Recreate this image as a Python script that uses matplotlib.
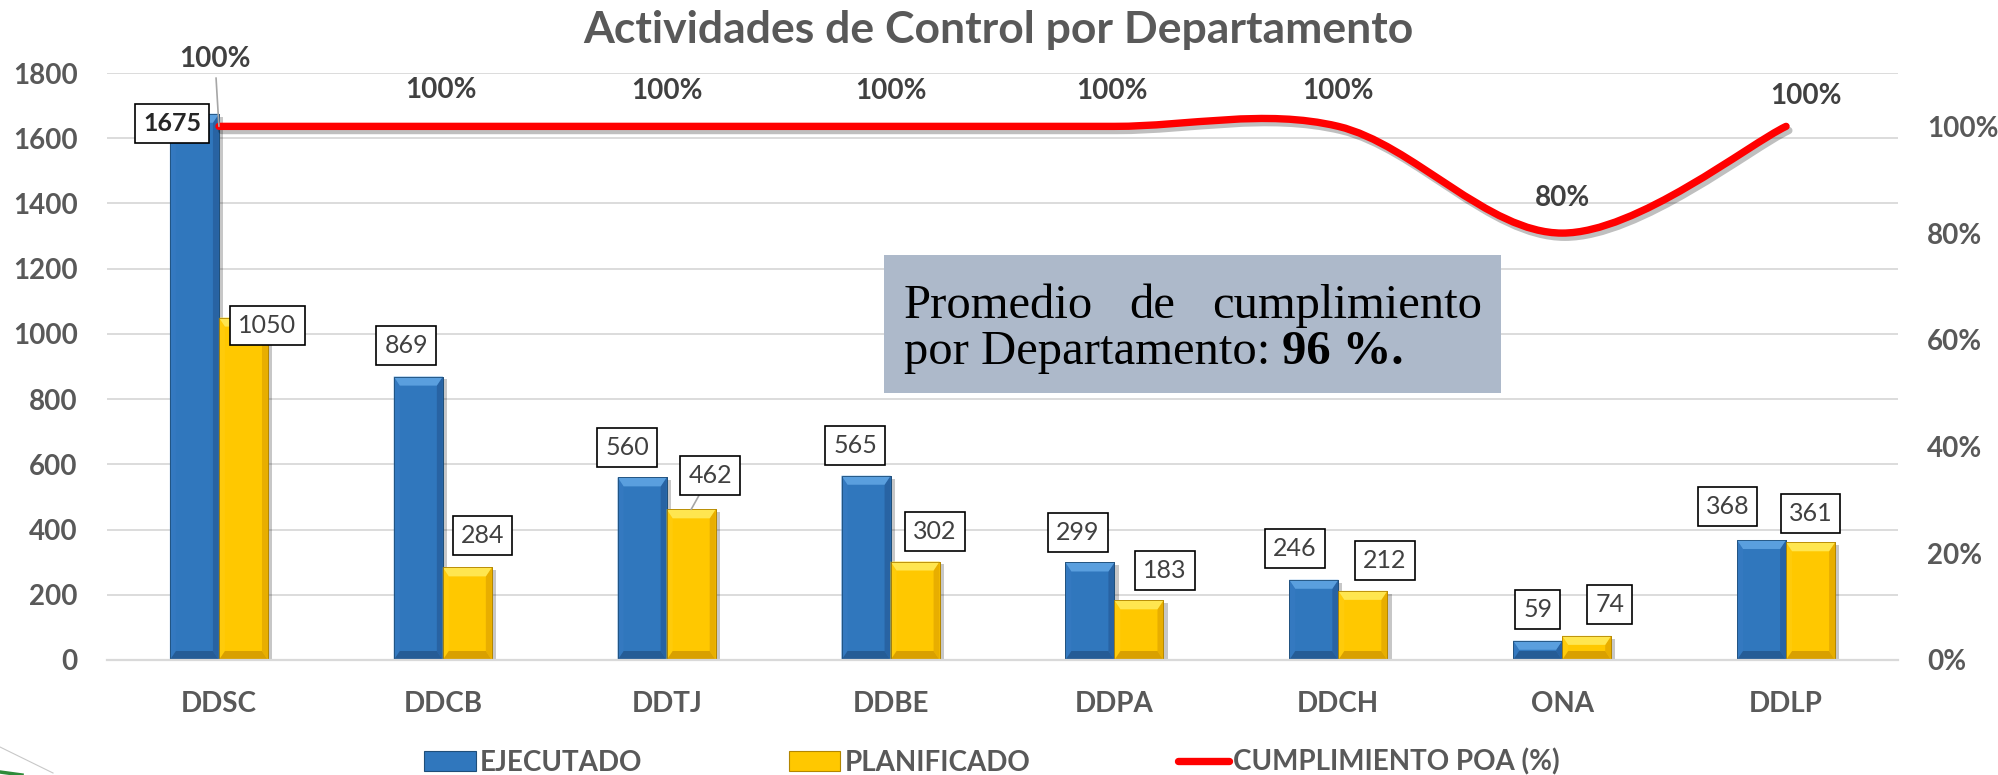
import numpy as np
import matplotlib
matplotlib.use("Agg")
import matplotlib.pyplot as plt
from matplotlib.patches import Rectangle, Polygon, PathPatch, Patch
from matplotlib.path import Path
from matplotlib.lines import Line2D
import matplotlib.patheffects as pe

# ---------------- data ----------------
categories = ["DDSC", "DDCB", "DDTJ", "DDBE", "DDPA", "DDCH", "ONA", "DDLP"]
ejecutado = [1675, 869, 560, 565, 299, 246, 59, 368]
planificado = [1050, 284, 462, 302, 183, 212, 74, 361]
cumplimiento = [1.00, 1.00, 1.00, 1.00, 1.00, 1.00, 0.80, 1.00]
left_ticks = [0, 200, 400, 600, 800, 1000, 1200, 1400, 1600, 1800]
right_ticks = [0.0, 0.2, 0.4, 0.6, 0.8, 1.0]
series_names = ["EJECUTADO", "PLANIFICADO", "CUMPLIMIENTO POA (%)"]
title = "Actividades de Control por Departamento"
promedio = 96

# ---------------- label placement (pixels, relative to bar top / point) ----------------
ejec_off = [(-22, -10), (-12, 31), (-15, 30), (-11, 30), (-12, 30), (-19, 31), (0, 31), (-34, 33)]
plan_off = [(24, -8), (15, 32), (19, 34), (20, 30), (26, 30), (22, 30), (23, 31), (0, 29)]
pct_off = [(-4, 67), (-2, 36), (0, 35), (0, 35), (-2, 35), (0, 35), (0, 35), (20, 30)]

# ---------------- style ----------------
FONT = "Lato"
GRAY = "#595959"
DARK = "#404040"
GRID = "#D9D9D9"
BLUE = dict(face="#3077BD", top="#5A9FDE", left="#3479C0", right="#2863A3", bottom="#255C96", edge="#1F4E79")
YELL = dict(face="#FFC800", top="#FFE650", left="#FFCB0A", right="#E8AE00", bottom="#D9A000", edge="#B38600")

W, H = 1999, 775
fig = plt.figure(figsize=(W / 100, H / 100), dpi=100)
fig.patch.set_facecolor("white")

ax_l, ax_r, ax_b, ax_t = 107, 1898, 660, 73
ax = fig.add_axes([ax_l / W, 1 - ax_b / H, (ax_r - ax_l) / W, (ax_b - ax_t) / H])
ax2 = ax.twinx()

n = len(categories)
x = np.arange(n)
bw = 0.219

ax.set_xlim(-0.5, n - 0.5)
ax.set_ylim(0, 1800)
ax2.set_ylim(0, 1.1)

ax.set_yticks(left_ticks)
ax.set_yticklabels([str(t) for t in left_ticks])
ax2.set_yticks(right_ticks)
ax2.set_yticklabels([f"{t:.0%}" for t in right_ticks])
ax.set_xticks(x)
ax.set_xticklabels(categories)

for a in (ax, ax2):
    for s in a.spines.values():
        s.set_visible(False)
ax.spines["bottom"].set_visible(True)
ax.spines["bottom"].set_color(GRID)
ax.spines["bottom"].set_linewidth(1.6)

ax.yaxis.grid(True, color=GRID, lw=1.3)
ax.set_axisbelow(True)

ax.tick_params(axis="y", length=0, pad=21, labelcolor=GRAY)
ax.tick_params(axis="x", length=0, pad=22, labelcolor=GRAY)
ax2.tick_params(axis="y", length=0, pad=21, labelcolor=GRAY)
for lab in ax.get_yticklabels() + ax.get_xticklabels() + ax2.get_yticklabels():
    lab.set_fontfamily(FONT)
    lab.set_fontweight("bold")
    lab.set_fontsize(20)

shadow = [pe.SimplePatchShadow(offset=(3, -2), shadow_rgbFace="black", alpha=0.22), pe.Normal()]
b1 = ax.bar(x - bw / 2, ejecutado, bw, color=BLUE["face"], edgecolor=BLUE["edge"], lw=0.6, zorder=2)
b2 = ax.bar(x + bw / 2, planificado, bw, color=YELL["face"], edgecolor=YELL["edge"], lw=0.6, zorder=2)
for bars in (b1, b2):
    for r in bars:
        r.set_path_effects(shadow)

# bevel facets derived from the bars
sx = (n) / ax.bbox.width
sy = 1800 / ax.bbox.height


def bevel(rect, pal):
    x0 = rect.get_x()
    x1 = x0 + rect.get_width()
    top = rect.get_height()
    bx = 6 * sx
    by = min(9 * sy, top / 2)
    polys = [
        ([(x0, top), (x0, 0), (x0 + bx, by), (x0 + bx, top - by)], pal["left"]),
        ([(x1, top), (x1, 0), (x1 - bx, by), (x1 - bx, top - by)], pal["right"]),
        ([(x0, 0), (x1, 0), (x1 - bx, by), (x0 + bx, by)], pal["bottom"]),
        ([(x0, top), (x1, top), (x1 - bx, top - by), (x0 + bx, top - by)], pal["top"]),
    ]
    for verts, c in polys:
        ax.add_patch(Polygon(verts, closed=True, fc=c, ec="none", zorder=2.1))
    ax.add_patch(Rectangle((x0, 0), x1 - x0, top, fill=False, ec=pal["edge"], lw=0.6, zorder=2.2))


for r in b1:
    bevel(r, BLUE)
for r in b2:
    bevel(r, YELL)

# data labels for bars
box = dict(boxstyle="square,pad=0.32", fc="white", ec="black", lw=1.2)
for i in range(n):
    ax.annotate(str(ejecutado[i]), xy=(x[i] - bw / 2, ejecutado[i]), xytext=ejec_off[i],
                textcoords="offset pixels", ha="center", va="center", fontsize=18,
                family=FONT, color=DARK if i else "#262626", weight="bold" if i == 0 else "normal",
                bbox=box, zorder=5)
    kw = {}
    if i == 2:
        kw["arrowprops"] = dict(arrowstyle="-", color="#A6A6A6", lw=1.2, shrinkA=0, shrinkB=0)
    ax.annotate(str(planificado[i]), xy=(x[i] + bw / 2, planificado[i]), xytext=plan_off[i],
                textcoords="offset pixels", ha="center", va="center", fontsize=18,
                family=FONT, color=DARK, bbox=box, zorder=5, **kw)

# smoothed line (Catmull-Rom style cubic Bezier, as in spreadsheet smoothing)
pts = list(zip(x.astype(float), cumplimiento))
verts = [pts[0]]
codes = [Path.MOVETO]
for i in range(n - 1):
    p0 = pts[i - 1] if i > 0 else pts[i]
    p1 = pts[i]
    p2 = pts[i + 1]
    p3 = pts[i + 2] if i + 2 < n else pts[i + 1]
    c1 = (p1[0] + (p2[0] - p0[0]) / 6, p1[1] + (p2[1] - p0[1]) / 6)
    c2 = (p2[0] - (p3[0] - p1[0]) / 6, p2[1] - (p3[1] - p1[1]) / 6)
    verts += [c1, c2, p2]
    codes += [Path.CURVE4] * 3
line = PathPatch(Path(verts, codes), fill=False, ec="#FF0000", lw=5.3, capstyle="round",
                 joinstyle="round", zorder=3)
line.set_path_effects([pe.SimpleLineShadow(offset=(2, -3), shadow_color="black", alpha=0.25),
                       pe.Normal()])
ax2.add_patch(line)

for i in range(n):
    kw = {}
    if i == 0:
        kw["arrowprops"] = dict(arrowstyle="-", color="#A6A6A6", lw=1.2, shrinkA=2, shrinkB=0)
    ax2.annotate(f"{cumplimiento[i]:.0%}", xy=(x[i], cumplimiento[i]), xytext=pct_off[i],
                 textcoords="offset pixels", ha="center", va="center", fontsize=20,
                 family=FONT, weight="bold", color=DARK, zorder=6, **kw)

# title
fig.text(998 / W, 1 - 43 / H, title, ha="center", va="baseline", fontsize=32,
         family=FONT, weight="bold", color=GRAY)

# legend
handles = [Patch(fc=BLUE["face"], ec=BLUE["edge"], lw=0.8),
           Patch(fc=YELL["face"], ec=YELL["edge"], lw=0.8),
           Line2D([0], [0], color="#FF0000", lw=5.3, solid_capstyle="round")]
leg = fig.legend(handles, series_names, loc="center", bbox_to_anchor=(992 / W, 1 - 762 / H),
                 ncol=3, frameon=False, handlelength=1.84, handleheight=0.7, handletextpad=0.15,
                 columnspacing=5.3, prop=dict(family=FONT, weight="bold", size=20))
for t in leg.get_texts():
    t.set_color(GRAY)

# annotation box
fig.patches.append(Rectangle((884 / W, 1 - 393 / H), (1501 - 884) / W, (393 - 255) / H,
                             transform=fig.transFigure, fc="#ADB9CA", ec="none", zorder=1))
renderer = fig.canvas.get_renderer()
serif = dict(family="Liberation Serif", size=35, color="black")
L, R = 904, 1482
y1, y2 = 1 - 318 / H, 1 - 364 / H
t_a = fig.text(L / W, y1, "Promedio", ha="left", va="baseline", zorder=3, **serif)
t_c = fig.text(R / W, y1, "cumplimiento", ha="right", va="baseline", zorder=3, **serif)
t_b = fig.text(0, y1, "de", ha="left", va="baseline", zorder=3, **serif)
wa = t_a.get_window_extent(renderer).width
wb = t_b.get_window_extent(renderer).width
wc = t_c.get_window_extent(renderer).width
gap = (R - L - wa - wb - wc) / 2
t_b.set_x((L + wa + gap) / W)
t_d = fig.text(L / W, y2, "por Departamento:", ha="left", va="baseline", zorder=3, **serif)
tmp1 = fig.text(0, 0, "x x", **serif)
tmp2 = fig.text(0, 0, "xx", **serif)
sp = tmp1.get_window_extent(renderer).width - tmp2.get_window_extent(renderer).width
tmp1.remove()
tmp2.remove()
wd = t_d.get_window_extent(renderer).width
fig.text((L + wd + sp) / W, y2, f"{promedio} %.", ha="left", va="baseline", zorder=3,
         weight="bold", **serif)

# slide decoration in corner
fig.add_artist(Line2D([0, 53 / W], [1 - 747 / H, 1 - 773 / H], color="#C8C8C8", lw=0.8))
fig.add_artist(Line2D([0, 22 / W], [1 - 772 / H, 1 - 775 / H], color="#2E8B3A", lw=2.5))

fig.savefig("out.png", dpi=100)
